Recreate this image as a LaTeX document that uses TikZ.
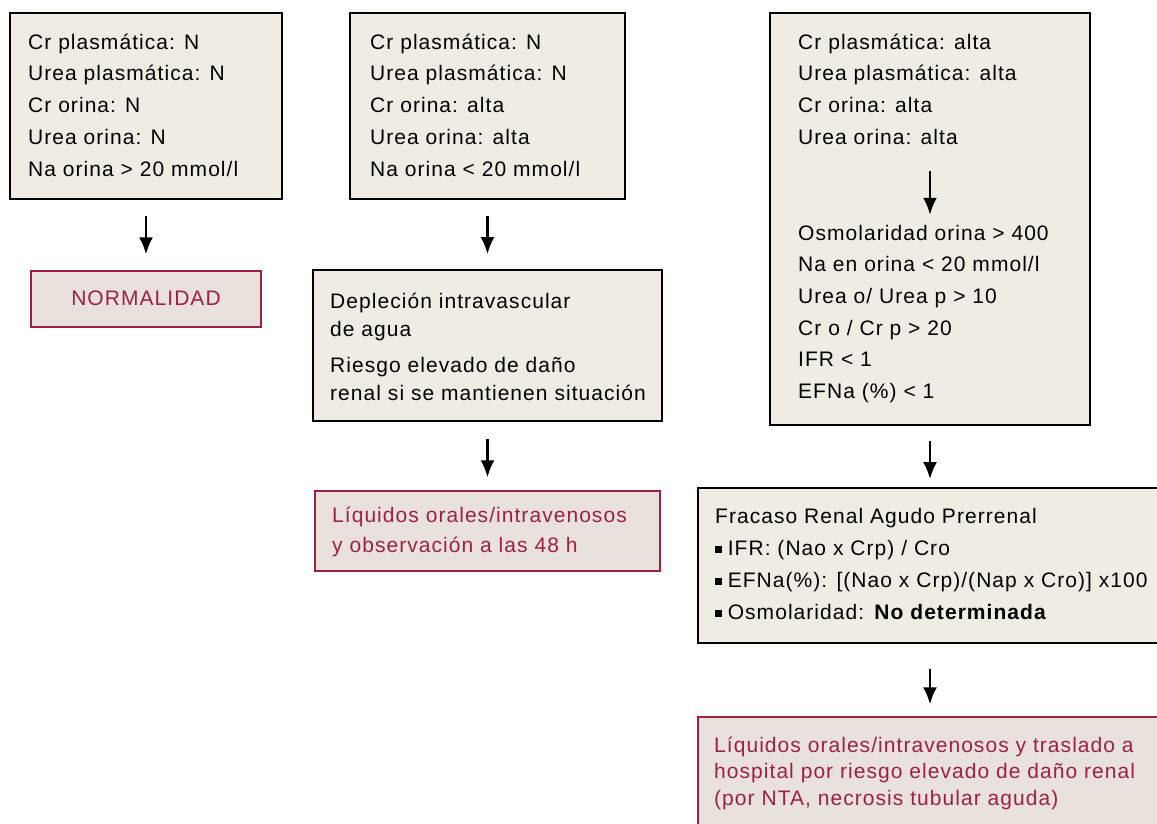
\documentclass[tikz,border=0pt]{standalone}
\usepackage{fontspec}
\setmainfont[LetterSpace=5]{Liberation Sans}
\usetikzlibrary{arrows.meta}
\definecolor{boxfill}{RGB}{239,236,228}
\definecolor{resfill}{RGB}{232,225,220}
\definecolor{resred}{RGB}{158,32,68}
\newcommand{\sq}{\rule[0.25ex]{0.3em}{0.3em}\hspace{0.3em}}

\begin{document}
\begin{tikzpicture}[x=1pt,y=-1pt,
  frame/.style={draw=black,line width=1.8pt,fill=boxfill,inner sep=0pt},
  resframe/.style={draw=resred,line width=1.4pt,fill=resfill,inner sep=0pt},
  txt/.style={anchor=west,align=left,inner sep=0pt,font=\fontsize{21}{31.7}\selectfont},
  restxt/.style={txt,text=resred},
  flow/.style={-{Latex[length=17pt,width=14pt]},line width=2.4pt}]
\useasboundingbox (0,0) rectangle (1157,823);

% frames
\node[frame,minimum width=272,minimum height=186] (normalIn) at (146,106) {};
\node[resframe,minimum width=230,minimum height=56] (normal) at (146,299) {};
\node[frame,minimum width=275,minimum height=186] (lowNa) at (487.5,106) {};
\node[frame,minimum width=349,minimum height=151] (deplecion) at (487.5,345.5) {};
\node[resframe,minimum width=345,minimum height=80] (observ) at (487.5,531) {};
\node[frame,minimum width=320,minimum height=412] (high) at (930,219) {};
\node[frame,minimum width=464,minimum height=155] (fra) at (930,565.5) {};
\node[resframe,minimum width=464,minimum height=116] (traslado) at (930,775) {};

% texts
\node[txt] (normalInTxt) at (28,105) {Cr plasmática: N\\Urea plasmática: N\\Cr orina: N\\Urea orina: N\\Na orina > 20 mmol/l};
\node[restxt,anchor=center] (normalTxt) at (146,298) {NORMALIDAD};
\node[txt] (lowNaTxt) at (370,105) {Cr plasmática: N\\Urea plasmática: N\\Cr orina: alta\\Urea orina: alta\\Na orina < 20 mmol/l};
\node[txt,font=\fontsize{21}{28}\selectfont] (deplecionTxt) at (330,347) {Depleción intravascular\\de agua\\[8pt]Riesgo elevado de daño\\renal si se mantienen situación};
\node[restxt,font=\fontsize{21}{30}\selectfont] (observTxt) at (332,532) {Líquidos orales/intravenosos\\y observación a las 48 h};
\node[txt] (highTop) at (798,89) {Cr plasmática: alta\\Urea plasmática: alta\\Cr orina: alta\\Urea orina: alta};
\node[txt] (highBot) at (798,314) {Osmolaridad orina > 400\\Na en orina < 20 mmol/l\\Urea o/ Urea p > 10\\Cr o / Cr p > 20\\IFR < 1\\EFNa (\%) < 1};
\node[txt,font=\fontsize{21}{32}\selectfont] (fraTxt) at (715,564) {Fracaso Renal Agudo Prerrenal\\\sq IFR: (Nao x Crp) / Cro\\\sq EFNa(\%): [(Nao x Crp)/(Nap x Cro)] x100\\\sq Osmolaridad: \textbf{No determinada}};
\node[restxt,font=\fontsize{21}{26.5}\selectfont] (trasladoTxt) at (714,773) {Líquidos orales/intravenosos y traslado a\\hospital por riesgo elevado de daño renal\\(por NTA, necrosis tubular aguda)};

% arrows
\draw[flow,shorten <=16pt,shorten >=16pt] (normalIn) -- (normal);
\draw[flow,shorten <=16pt,shorten >=15pt] (lowNa) -- (deplecion);
\draw[flow,shorten <=17pt,shorten >=13pt] (deplecion) -- (observ);
\draw[flow,shorten <=26pt,shorten >=10pt] (high.center |- highTop.south) -- (high.center |- highBot.north);
\draw[flow,shorten <=15pt,shorten >=8pt] (high) -- (fra);
\draw[flow,shorten <=25pt,shorten >=12pt] (fra) -- (traslado);
\end{tikzpicture}
\end{document}
